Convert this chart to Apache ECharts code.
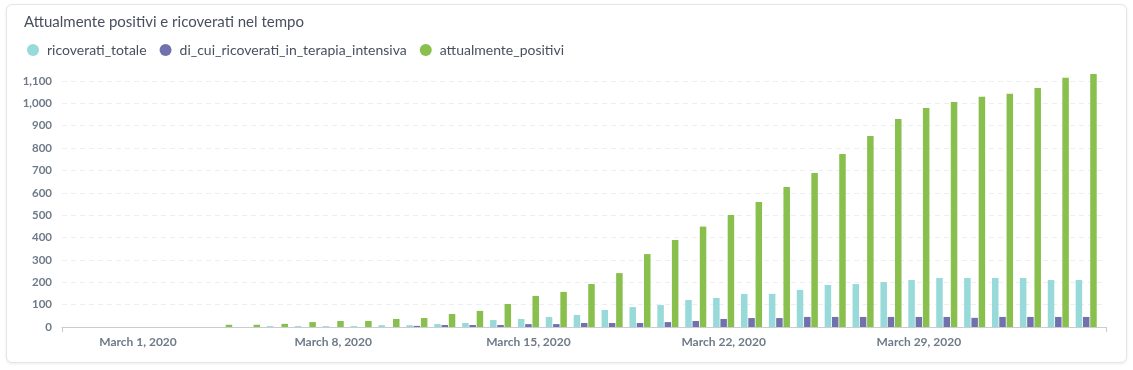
<!DOCTYPE html>
<html>
<head>
<meta charset="utf-8">
<script src="https://cdn.jsdelivr.net/npm/echarts@6/dist/echarts.min.js"></script>
<style>
  html, body { margin: 0; padding: 0; background: #ffffff; }
  #card { position: absolute; left: 6px; top: 4px; width: 1119px; height: 357px;
          border: 1px solid #e3e5e9; border-radius: 6px; box-shadow: 0 1px 3px rgba(0,0,0,0.08); background:#fff; }
  #chart { position: absolute; left: 0; top: 0; width: 1133px; height: 370px; }
</style>
</head>
<body>
<div id="card"></div>
<div id="chart"></div>
<script>
const chartTitle = 'Attualmente positivi e ricoverati nel tempo';
const seriesNames = ['ricoverati_totale', 'di_cui_ricoverati_in_terapia_intensiva', 'attualmente_positivi'];
const dates = [
  '2020-02-28','2020-02-29','2020-03-01','2020-03-02','2020-03-03','2020-03-04','2020-03-05',
  '2020-03-06','2020-03-07','2020-03-08','2020-03-09','2020-03-10','2020-03-11','2020-03-12',
  '2020-03-13','2020-03-14','2020-03-15','2020-03-16','2020-03-17','2020-03-18','2020-03-19',
  '2020-03-20','2020-03-21','2020-03-22','2020-03-23','2020-03-24','2020-03-25','2020-03-26',
  '2020-03-27','2020-03-28','2020-03-29','2020-03-30','2020-03-31','2020-04-01','2020-04-02',
  '2020-04-03','2020-04-04'
];
const ricoveratiTotale = [
  0,0,0,0,0,0,0,
  4,4,4,4,8,8,13,
  18,31,36,45,54,76,89,
  98,121,130,148,148,166,188,
  192,201,210,219,219,219,219,
  210,210
];
const terapiaIntensiva = [
  0,0,0,0,0,0,0,
  0,0,0,0,0,5,9,
  9,9,13,13,18,18,18,
  22,27,36,40,40,45,45,
  45,45,45,45,41,45,45,
  45,45
];
const attualmentePositivi = [
  0,0,0,0,0,10,10,
  14,22,27,27,36,40,58,
  72,103,139,157,192,241,326,
  389,449,501,559,626,689,774,
  854,930,979,1006,1030,1043,1069,
  1114,1131
];
const xTickDates = ['2020-03-01','2020-03-08','2020-03-15','2020-03-22','2020-03-29'];
const xTickLabels = ['March 1, 2020','March 8, 2020','March 15, 2020','March 22, 2020','March 29, 2020'];
const yTicks = [0,100,200,300,400,500,600,700,800,900,1000,1100];

const DAY = 86400000;
const origin = Date.parse('2020-03-01');
const dayIndex = d => Math.round((Date.parse(d) - origin) / DAY);
const xs = dates.map(dayIndex);
const tickXs = xTickDates.map(dayIndex);
const xMin = -2.725, xMax = 34.71;

const colors = ['#98D9D9', '#7172AD', '#88BF4D'];
const font = 'Lato, "Noto Sans", sans-serif';
const labelColor = '#6f7a89';

const mk = (arr) => arr.map((v, i) => [xs[i], v]);

const chart = echarts.init(document.getElementById('chart'), null, { renderer: 'canvas' });
chart.setOption({
  animation: false,
  color: colors,
  textStyle: { fontFamily: font },
  title: {
    text: chartTitle, left: 19, top: 10,
    textStyle: { fontSize: 15, fontWeight: 'normal', color: '#484f5e', fontFamily: font }
  },
  legend: {
    data: seriesNames, left: 22, top: 38, icon: 'circle',
    itemWidth: 12, itemHeight: 12, itemGap: 13,
    textStyle: { fontSize: 14, color: '#484f5e', fontFamily: font, padding: [0, 0, 0, 3] }
  },
  grid: { left: 62, right: 27, top: 81, bottom: 43, containLabel: false },
  xAxis: {
    type: 'value', min: xMin, max: xMax,
    splitLine: { show: false },
    axisLine: { show: true, lineStyle: { color: '#c9cdd3', width: 1 } },
    axisTick: { show: true, customValues: [xMin, xMax], length: 5, lineStyle: { color: '#c9cdd3' } },
    axisLabel: {
      customValues: tickXs, margin: 9,
      color: labelColor, fontWeight: 'bold', fontSize: 12, fontFamily: font,
      formatter: v => { const i = tickXs.indexOf(Math.round(v)); return i >= 0 ? xTickLabels[i] : ''; }
    }
  },
  yAxis: {
    type: 'value', min: yTicks[0], max: yTicks[yTicks.length - 1], interval: 100,
    axisLine: { show: false }, axisTick: { show: false },
    splitLine: { show: true, lineStyle: { color: '#eceef1', type: [5, 4], width: 1 } },
    axisLabel: {
      margin: 10, color: labelColor, fontWeight: 'bold', fontSize: 11.5, fontFamily: font,
      formatter: v => v.toLocaleString('en-US')
    }
  },
  series: [
    { name: seriesNames[0], type: 'bar', data: mk(ricoveratiTotale), barWidth: 6.5, barGap: '12%', clip: false },
    { name: seriesNames[1], type: 'bar', data: mk(terapiaIntensiva), barWidth: 6.5, barGap: '12%', clip: false },
    { name: seriesNames[2], type: 'bar', data: mk(attualmentePositivi), barWidth: 6.5, barGap: '12%', clip: false }
  ]
});
</script>
</body>
</html>
